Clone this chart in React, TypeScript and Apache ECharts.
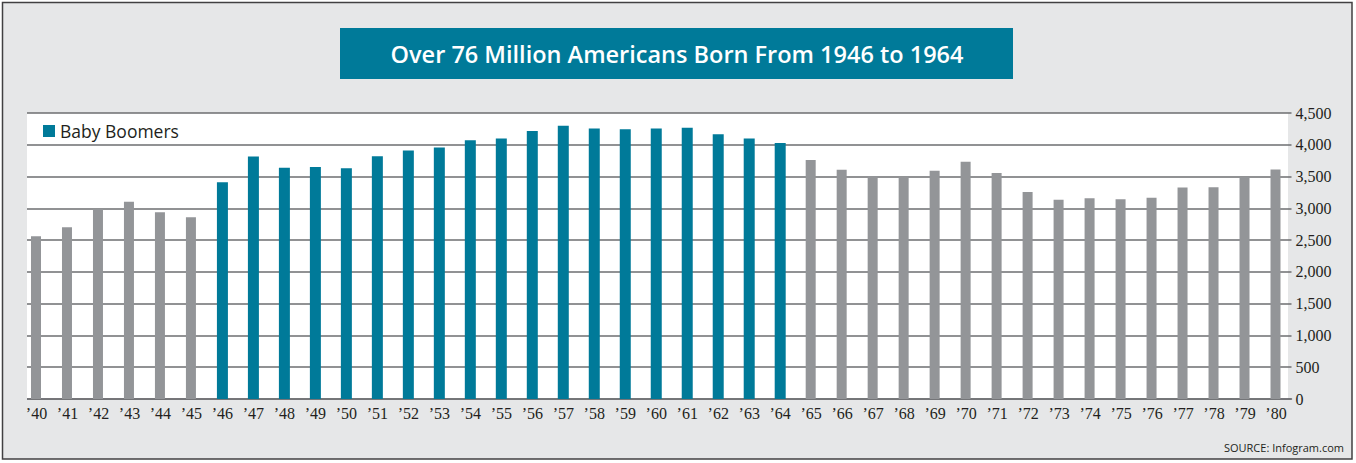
import { useEffect, useRef } from "react";
import * as echarts from "echarts";

// US births per year, in thousands, 1940–1980
const yearLabels = [
  "’40", "’41", "’42", "’43", "’44", "’45", "’46", "’47", "’48", "’49",
  "’50", "’51", "’52", "’53", "’54", "’55", "’56", "’57", "’58", "’59",
  "’60", "’61", "’62", "’63", "’64", "’65", "’66", "’67", "’68", "’69",
  "’70", "’71", "’72", "’73", "’74", "’75", "’76", "’77", "’78", "’79",
  "’80",
];

const birthsThousands = [
  2559, 2703, 2989, 3104, 2939, 2858, 3411, 3817, 3637, 3649,
  3632, 3820, 3909, 3959, 4071, 4097, 4218, 4300, 4255, 4245,
  4258, 4268, 4167, 4098, 4027, 3760, 3606, 3510, 3502, 3590,
  3731, 3556, 3258, 3137, 3160, 3144, 3168, 3327, 3333, 3494,
  3612,
];

const boomerFirst = "’46";
const boomerLast = "’64";

const titleText = "Over 76 Million Americans Born From 1946 to 1964";
const legendLabel = "Baby Boomers";
const sourceText = "SOURCE: Infogram.com";

const TEAL = "#007a99";
const GRAY_BAR = "#939598";
const PANEL = "#e6e7e8";
const INK = "#231f20";
const RULE = "#6d6e71";

export default function App() {
  const ref = useRef<HTMLDivElement>(null);

  useEffect(() => {
    document.body.style.margin = "0";
    const chart = echarts.init(ref.current!, null, { renderer: "svg" });

    const i0 = yearLabels.indexOf(boomerFirst);
    const i1 = yearLabels.indexOf(boomerLast);
    const inBoom = (i: number) => i >= i0 && i <= i1;
    const boomers = birthsThousands.map((v, i) => (inBoom(i) ? v : null));
    const others = birthsThousands.map((v, i) => (inBoom(i) ? null : v));

    chart.setOption({
      animation: false,
      backgroundColor: "#ffffff",
      graphic: [
        {
          type: "rect",
          z: -2,
          shape: { x: 2.5, y: 2.5, width: 1349.5, height: 456.5 },
          style: { fill: PANEL, stroke: "#414042", lineWidth: 1.5 },
        },
        {
          type: "rect",
          z: -1,
          shape: { x: 27, y: 113, width: 1261, height: 286 },
          style: { fill: "#ffffff" },
        },
        {
          // trims the grid rules so they begin at the white panel's edge
          type: "rect",
          z: 10,
          shape: { x: 4, y: 106, width: 23, height: 296 },
          style: { fill: PANEL },
        },
        {
          type: "rect",
          shape: { x: 340, y: 28, width: 673, height: 51 },
          style: { fill: TEAL },
        },
        {
          type: "text",
          x: 677,
          y: 54,
          style: {
            text: titleText,
            fill: "#ffffff",
            font: '600 23.5px "Open Sans"',
            align: "center",
            verticalAlign: "middle",
          },
        },
        {
          type: "text",
          x: 1344,
          y: 447,
          style: {
            text: sourceText,
            fill: INK,
            font: '11px "Open Sans"',
            align: "right",
            verticalAlign: "middle",
          },
        },
      ],
      legend: {
        data: [legendLabel],
        left: 43,
        top: 122,
        padding: 0,
        itemWidth: 12,
        itemHeight: 12,
        icon: "rect",
        selectedMode: false,
        textStyle: { fontSize: 17.5, fontFamily: "Open Sans", color: INK },
      },
      grid: {
        left: 21,
        right: 64.5,
        top: 113,
        bottom: 64,
        containLabel: false,
        outerBoundsMode: "none",
      },
      xAxis: {
        type: "category",
        data: yearLabels,
        axisLine: { show: true, lineStyle: { color: RULE, width: 1.5 } },
        axisTick: { show: false },
        axisLabel: {
          margin: 6,
          fontSize: 16,
          fontFamily: "Liberation Sans Narrow",
          color: INK,
        },
      },
      yAxis: {
        type: "value",
        position: "right",
        min: 0,
        max: 4500,
        interval: 500,
        axisLine: { show: false },
        axisTick: { show: false },
        axisLabel: {
          margin: 4,
          fontSize: 16,
          fontFamily: "Liberation Sans Narrow",
          color: INK,
          formatter: (v: number) => v.toLocaleString("en-US"),
        },
        splitLine: { show: true, lineStyle: { color: RULE, width: 1.5 } },
      },
      series: [
        {
          name: "Other years",
          type: "bar",
          data: others,
          barWidth: 10,
          barGap: "-100%",
          itemStyle: { color: GRAY_BAR },
        },
        {
          name: legendLabel,
          type: "bar",
          data: boomers,
          barWidth: 11,
          barGap: "-100%",
          itemStyle: { color: TEAL },
        },
      ],
    });

    return () => chart.dispose();
  }, []);

  return <div ref={ref} style={{ width: 1356, height: 463 }} />;
}
